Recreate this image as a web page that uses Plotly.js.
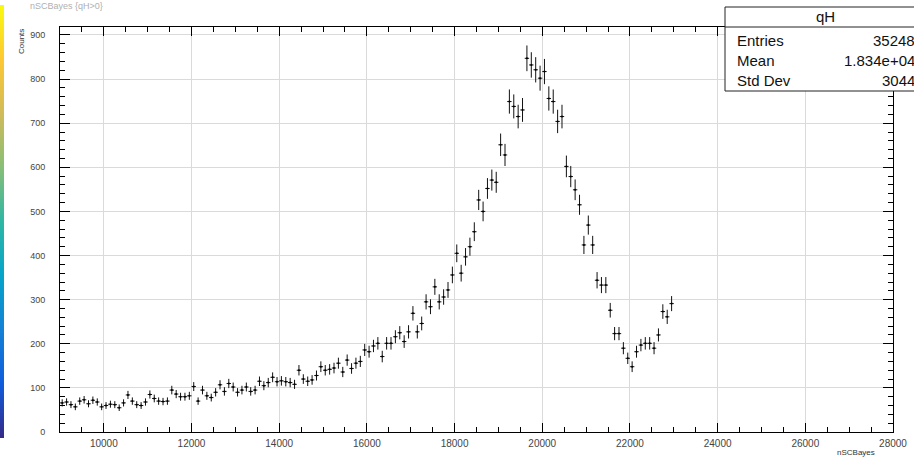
<!DOCTYPE html>
<html><head><meta charset="utf-8">
<script src="https://cdn.plot.ly/plotly-3.0.1.min.js"></script>
<style>html,body{margin:0;padding:0;background:#fff;overflow:hidden;} #chart{width:914px;height:464px;}</style>
</head><body><div id="chart"></div>
<script>
// ---- data ----
const histName = 'qH';
const histTitle = 'nSCBayes {qH>0}';
const binStart = 9000;
const binWidth = 100;
const counts = [
  66,68,62,57,70,73,64,72,68,57,
  60,63,62,55,66,84,70,62,60,68,
  85,76,70,69,70,95,86,80,80,82,
  103,70,95,82,78,90,107,92,110,102,
  90,95,102,92,95,115,105,112,124,114,
  116,114,112,108,140,120,115,118,128,148,
  140,142,145,156,136,163,144,156,160,
  186,182,195,201,171,201,201,216,225,205,
  227,269,227,246,295,284,329,295,306,322,
  356,405,360,397,420,454,526,500,552,571,
  566,651,628,749,738,715,730,847,832,821,
  802,817,756,749,704,715,602,579,549,515,
  424,469,424,344,333,333,276,223,223,190,
  167,148,182,197,201,201,190,220,273,261,
  291
];
const xRange = [9000, 28000];
const yRange = [0, 918];
const xTitle = 'nSCBayes';
const yTitle = 'Counts';
const statLabels = ['Entries', 'Mean', 'Std Dev'];
const statValues = ['35248', '1.834e+04', '3044'];
const paletteStops = [
  [0, '#352a87'], [0.125, '#0f5cdd'], [0.25, '#1481d6'], [0.375, '#06a4ca'],
  [0.5, '#2eb7a4'], [0.625, '#87bf77'], [0.75, '#d1bb59'], [0.875, '#fec832'], [1, '#f9fb0e']
];

// ---- derived ----
const xCenters = counts.map((_, i) => binStart + binWidth * (i + 0.5));
const errs = counts.map(c => Math.sqrt(c));

const W = 914, H = 464;
const M = {l: 60, r: 21, t: 27, b: 32, autoexpand: false};
const PW = W - M.l - M.r, PH = H - M.t - M.b;
const px = x => (x - M.l) / PW;       // pixel -> paper x
const py = y => (H - M.b - y) / PH;   // pixel -> paper y

const font = 'Liberation Sans, Arial, Helvetica, sans-serif';

const traces = [
  {
    type: 'scatter', mode: 'markers',
    x: xCenters, y: counts,
    marker: {size: 2, color: '#000'},
    error_y: {type: 'data', array: errs, visible: true, color: '#111', thickness: 1, width: 0},
    error_x: {type: 'constant', value: binWidth / 2, visible: true, color: '#111', thickness: 1, width: 0},
    hoverinfo: 'skip', showlegend: false
  },
  {
    type: 'scatter', mode: 'markers',
    x: [null, null], y: [null, null],
    marker: {
      color: [0, 1], cmin: 0, cmax: 1, colorscale: paletteStops, showscale: true,
      colorbar: {
        x: px(0), xref: 'paper', xanchor: 'left',
        y: py(438), yref: 'paper', yanchor: 'bottom',
        len: 433, lenmode: 'pixels', thickness: 4, thicknessmode: 'pixels',
        xpad: 0, ypad: 0, outlinewidth: 0, ticks: '', showticklabels: false
      }
    },
    hoverinfo: 'skip', showlegend: false
  }
];

const annotations = [
  {text: yTitle, xref: 'paper', yref: 'paper', x: px(21), y: py(42), textangle: -90,
   showarrow: false, xanchor: 'center', yanchor: 'middle', font: {family: font, size: 8, color: '#333'}},
  {text: xTitle, xref: 'paper', yref: 'paper', x: px(877), y: py(452),
   showarrow: false, xanchor: 'right', yanchor: 'middle', font: {family: font, size: 8, color: '#333'}},
  {text: histTitle, xref: 'paper', yref: 'paper', x: px(28), y: py(6),
   showarrow: false, xanchor: 'left', yanchor: 'middle', font: {family: font, size: 9, color: '#b0b0b0'}},
  {text: histName, xref: 'paper', yref: 'paper', x: px(825), y: py(17),
   showarrow: false, xanchor: 'center', yanchor: 'middle', font: {family: font, size: 15, color: '#111'}}
];
statLabels.forEach((lab, i) => {
  const yy = 40 + 20 * i;
  annotations.push({text: lab, xref: 'paper', yref: 'paper', x: px(735), y: py(yy),
    showarrow: false, xanchor: 'left', yanchor: 'middle', font: {family: font, size: 15, color: '#111'}});
  annotations.push({text: statValues[i], xref: 'paper', yref: 'paper', x: px(917), y: py(yy),
    showarrow: false, xanchor: 'right', yanchor: 'middle', font: {family: font, size: 15, color: '#111'}});
});

const shapes = [
  {type: 'rect', xref: 'paper', yref: 'paper', x0: px(725), x1: px(930), y0: py(91), y1: py(7),
   line: {color: '#222', width: 1}, fillcolor: '#fff', layer: 'above'},
  {type: 'line', xref: 'paper', yref: 'paper', x0: px(725), x1: px(930), y0: py(27), y1: py(27),
   line: {color: '#222', width: 1}, layer: 'above'}
];

const layout = {
  width: W, height: H, margin: M,
  paper_bgcolor: '#fff', plot_bgcolor: '#fff',
  showlegend: false,
  xaxis: {
    range: xRange, dtick: 2000, tick0: 0, tickformat: 'd',
    ticks: 'inside', ticklen: 9, tickcolor: '#000', tickwidth: 1,
    showline: true, linecolor: '#000', linewidth: 1, mirror: 'ticks',
    showgrid: true, gridcolor: '#dadada', gridwidth: 1, zeroline: false,
    tickfont: {family: font, size: 10, color: '#444'}, ticklabelstandoff: 2,
    minor: {dtick: 500, tick0: 0, ticks: 'inside', ticklen: 5, tickcolor: '#000', showgrid: false}
  },
  yaxis: {
    range: yRange, dtick: 100, tick0: 0, tickformat: 'd',
    ticks: 'inside', ticklen: 10, tickcolor: '#000', tickwidth: 1,
    showline: true, linecolor: '#000', linewidth: 1, mirror: 'ticks',
    showgrid: true, gridcolor: '#dadada', gridwidth: 1, zeroline: false,
    tickfont: {family: font, size: 9, color: '#444'}, ticklabelstandoff: 12,
    minor: {dtick: 20, tick0: 0, ticks: 'inside', ticklen: 5, tickcolor: '#000', showgrid: false}
  },
  annotations: annotations,
  shapes: shapes
};

Plotly.newPlot('chart', traces, layout, {staticPlot: true, displayModeBar: false});
</script>
</body></html>
